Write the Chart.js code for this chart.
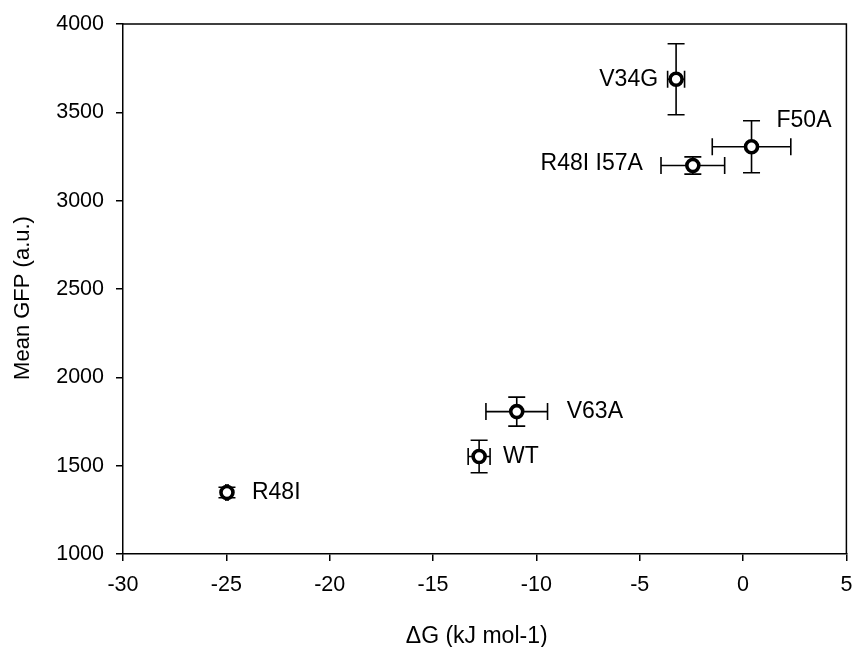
<!DOCTYPE html>
<html>
<head>
<meta charset="utf-8">
<script src="https://cdn.jsdelivr.net/npm/chart.js@4"></script>
<style>
html,body{margin:0;padding:0;background:#fff;}
#wrap{width:856px;height:647px;}
</style>
</head>
<body>
<div id="wrap"><canvas id="c" width="856" height="647"></canvas></div>
<script>
// ---- data ----
const mutants = ["V34G", "F50A", "R48I I57A", "V63A", "WT", "R48I"];
const deltaG = [-3.24, 0.41, -2.43, -10.95, -12.77, -24.97];
const deltaGErr = [0.41, 1.9, 1.54, 1.49, 0.53, 0.05];
const meanGFP = [3687, 3305, 3199, 1806, 1552, 1348];
const meanGFPErr = [201, 147, 49, 82, 92, 30];
const xTicks = [-30, -25, -20, -15, -10, -5, 0, 5];
const yTicks = [1000, 1500, 2000, 2500, 3000, 3500, 4000];
const xTitle = "ΔG (kJ mol-1)";
const yTitle = "Mean GFP (a.u.)";

// label placement (pixel offsets from point, styling only)
const labelPlace = [
  {align: "right", dx: -18, dy: 0},
  {align: "left", dx: 25, dy: -26},
  {align: "right", dx: -50, dy: -2},
  {align: "left", dx: 50, dy: 0},
  {align: "left", dx: 24, dy: 0},
  {align: "left", dx: 25, dy: 0}
];

const FONT = "'Liberation Sans', Arial, sans-serif";

const errorBars = {
  id: "errorBars",
  beforeDatasetsDraw(chart) {
    const ctx = chart.ctx, xs = chart.scales.x, ys = chart.scales.y;
    const cap = 8.5;
    ctx.save();
    ctx.strokeStyle = "#000";
    ctx.lineWidth = 1.6;
    for (let i = 0; i < deltaG.length; i++) {
      const cx = xs.getPixelForValue(deltaG[i]);
      const cy = ys.getPixelForValue(meanGFP[i]);
      const x1 = xs.getPixelForValue(deltaG[i] - deltaGErr[i]);
      const x2 = xs.getPixelForValue(deltaG[i] + deltaGErr[i]);
      const y1 = ys.getPixelForValue(meanGFP[i] + meanGFPErr[i]);
      const y2 = ys.getPixelForValue(meanGFP[i] - meanGFPErr[i]);
      ctx.beginPath();
      ctx.moveTo(x1, cy); ctx.lineTo(x2, cy);
      ctx.moveTo(x1, cy - cap); ctx.lineTo(x1, cy + cap);
      ctx.moveTo(x2, cy - cap); ctx.lineTo(x2, cy + cap);
      ctx.moveTo(cx, y1); ctx.lineTo(cx, y2);
      ctx.moveTo(cx - cap, y1); ctx.lineTo(cx + cap, y1);
      ctx.moveTo(cx - cap, y2); ctx.lineTo(cx + cap, y2);
      ctx.stroke();
    }
    ctx.restore();
  },
  afterDatasetsDraw(chart) {
    const ctx = chart.ctx, xs = chart.scales.x, ys = chart.scales.y;
    const a = chart.chartArea;
    ctx.save();
    ctx.strokeStyle = "#000";
    ctx.lineWidth = 1.5;
    ctx.beginPath();
    ctx.moveTo(a.left, a.top); ctx.lineTo(a.right, a.top); ctx.lineTo(a.right, a.bottom);
    ctx.stroke();
    ctx.fillStyle = "#000";
    ctx.font = "23px " + FONT;
    ctx.textBaseline = "middle";
    for (let i = 0; i < mutants.length; i++) {
      const p = labelPlace[i];
      ctx.textAlign = p.align;
      ctx.fillText(mutants[i], xs.getPixelForValue(deltaG[i]) + p.dx, ys.getPixelForValue(meanGFP[i]) + p.dy);
    }
    // axis titles
    ctx.textBaseline = "alphabetic";
    ctx.textAlign = "center";
    ctx.font = "23px " + FONT;
    ctx.fillText(xTitle, (a.left + a.right) / 2 - 8, 643);
    ctx.font = "22px " + FONT;
    ctx.translate(29, (a.top + a.bottom) / 2 + 9);
    ctx.rotate(-Math.PI / 2);
    ctx.fillText(yTitle, 0, 0);
    ctx.restore();
  }
};

new Chart(document.getElementById("c"), {
  type: "scatter",
  data: {
    datasets: [{
      data: deltaG.map((x, i) => ({x: x, y: meanGFP[i]})),
      pointRadius: 6,
      pointHoverRadius: 6,
      pointBackgroundColor: "#fff",
      pointBorderColor: "#000",
      pointBorderWidth: 3.6
    }]
  },
  options: {
    responsive: false,
    animation: false,
    events: [],
    layout: {padding: {left: 0, right: 0, top: 24, bottom: 0}},
    plugins: {legend: {display: false}, tooltip: {enabled: false}},
    scales: {
      x: {
        type: "linear",
        min: -30, max: 5,
        afterBuildTicks(s) { s.ticks = xTicks.map(v => ({value: v})); },
        afterFit(s) { s.height = 93; s.paddingRight = 3; s.paddingLeft = 0; },
        grid: {drawOnChartArea: false, drawTicks: true, tickLength: 7, color: "#000", lineWidth: 1.5},
        border: {display: true, color: "#000", width: 1.5},
        ticks: {color: "#000", font: {family: FONT, size: 21.5}, padding: 11, maxRotation: 0,
                callback: v => String(v)},
        title: {display: false}
      },
      y: {
        type: "linear",
        min: 1000, max: 4000,
        afterBuildTicks(s) { s.ticks = yTicks.map(v => ({value: v})); },
        afterFit(s) { s.width = 123; s.paddingTop = 0; s.paddingBottom = 0; },
        grid: {drawOnChartArea: false, drawTicks: true, tickLength: 7, color: "#000", lineWidth: 1.5},
        border: {display: true, color: "#000", width: 1.5},
        ticks: {color: "#000", font: {family: FONT, size: 21.5}, padding: 12,
                callback: v => String(v)},
        title: {display: false}
      }
    }
  },
  plugins: [errorBars]
});
</script>
</body>
</html>
